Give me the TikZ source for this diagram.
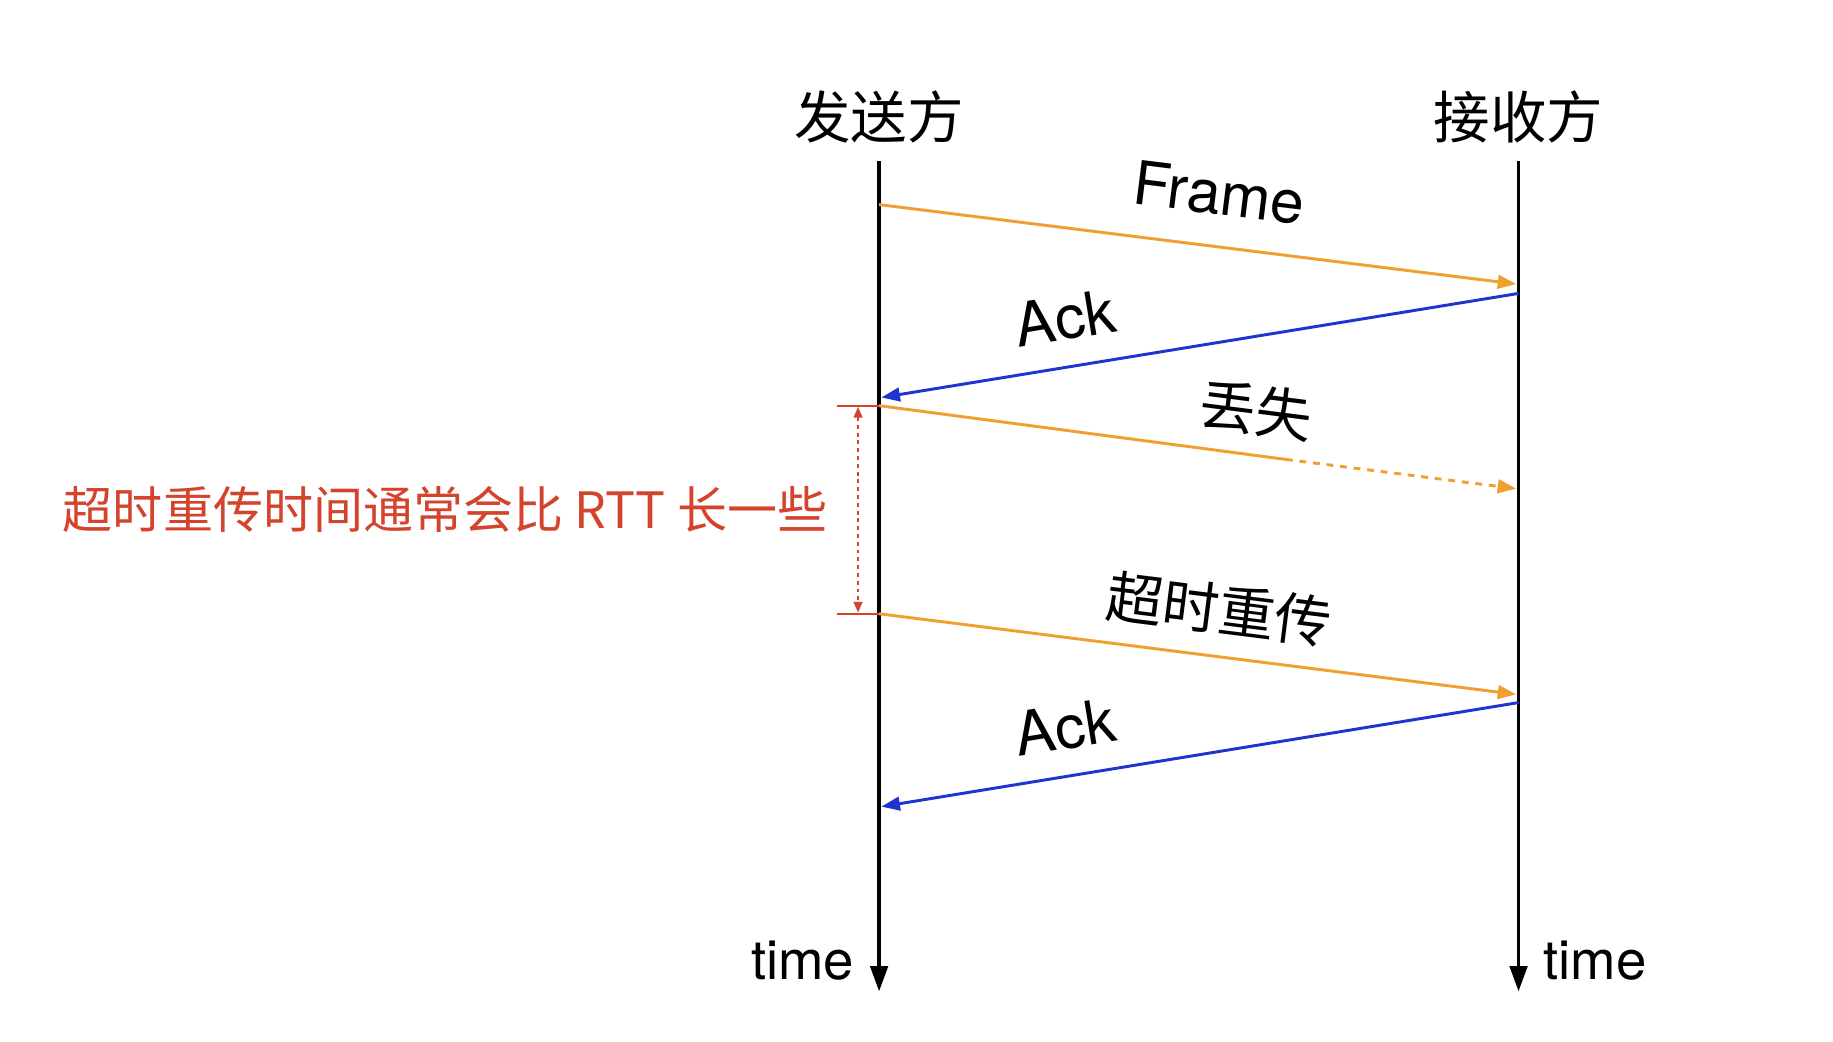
\documentclass[tikz,border=0pt]{standalone}
\usepackage{fontspec}
\setmainfont{TeX Gyre Heros}
\newfontfamily\cjk{Noto Sans CJK SC}
\usetikzlibrary{arrows.meta}
\definecolor{forange}{HTML}{F0A030}
\definecolor{ablue}{HTML}{1C34D0}
\definecolor{tred}{HTML}{D4432C}
\begin{document}
\begin{tikzpicture}[x=0.6pt,y=-0.6pt,
  life/.style={line width=1.7pt,-{Triangle[length=13pt,width=9pt]}},
  msg/.style={line width=1.5pt,-{Triangle[length=9.5pt,width=7pt]}},
  titlelbl/.style={font=\cjk\fontsize{29}{29}\selectfont,inner sep=0pt},
  latlbl/.style={font=\fontsize{31}{31}\selectfont,inner sep=0pt},
  cjklbl/.style={font=\cjk\fontsize{29}{29}\selectfont,inner sep=0pt},
  timelbl/.style={font=\fontsize{28}{28}\selectfont,inner sep=0pt},
  redlbl/.style={font=\cjk\fontsize{25.7}{26}\selectfont,inner sep=0pt,text=tred},
  tick/.style={tred,line width=1pt},
  span/.style={tred,line width=0.9pt,dash pattern=on 2pt off 2pt,{Triangle[length=5.5pt,width=4.5pt]}-{Triangle[length=5.5pt,width=4.5pt]}}
]
\useasboundingbox[fill=white] (0,0) rectangle (1568,891);

% lifelines
\coordinate (sTop) at (752,138);
\coordinate (sBot) at (752,848);
\coordinate (rTop) at (1299,138);
\coordinate (rBot) at (1299,848);
\draw[life] (sTop) -- (sBot);
\draw[life] (rTop) -- (rBot);

\node[titlelbl] (sname) at (752,100) {发送方};
\node[titlelbl] (rname) at (1299,100) {接收方};
\node[timelbl,anchor=east] (stime) at (731,822) {time};
\node[timelbl,anchor=west] (rtime) at (1320,822) {time};

% message endpoints
\coordinate (f1s) at (752,175);
\coordinate (f1e) at (1297,243);
\coordinate (a1s) at (1299,251);
\coordinate (a1e) at (754,340);
\coordinate (l1s) at (752,347);
\coordinate (l1m) at (1100,393);
\coordinate (l1e) at (1297,418);
\coordinate (r1s) at (752,525);
\coordinate (r1e) at (1297,594);
\coordinate (a2s) at (1299,601);
\coordinate (a2e) at (754,690);

\draw[msg,forange] (f1s) -- (f1e);
\draw[msg,ablue] (a1s) -- (a1e);
\draw[forange,line width=1.5pt] (l1s) -- (l1m);
\draw[msg,forange,dash pattern=on 3.5pt off 3.5pt] (l1m) -- (l1e);
\draw[msg,forange] (r1s) -- (r1e);
\draw[msg,ablue] (a2s) -- (a2e);

% labels
\node[latlbl,rotate=-7.1] (lframe) at (1043,165) {Frame};
\node[latlbl,rotate=9.3] (lack1) at (911,272) {Ack};
\node[cjklbl,rotate=-7.3] (llost) at (1075,351) {丢失};
\node[cjklbl,rotate=-7.2] (lretx) at (1043,521) {超时重传};
\node[latlbl,rotate=9.3] (lack2) at (911,622) {Ack};

% timeout bracket
\coordinate (tk1a) at (716,347);
\coordinate (tk1b) at (752,347);
\coordinate (tk2a) at (716,525);
\coordinate (tk2b) at (752,525);
\coordinate (sp1) at (734,348);
\coordinate (sp2) at (734,524);
\draw[tick] (tk1a) -- (tk1b);
\draw[tick] (tk2a) -- (tk2b);
\draw[span] (sp1) -- (sp2);
\node[redlbl,anchor=east] (note) at (708,436) {超时重传时间通常会比 RTT 长一些};
\end{tikzpicture}
\end{document}
